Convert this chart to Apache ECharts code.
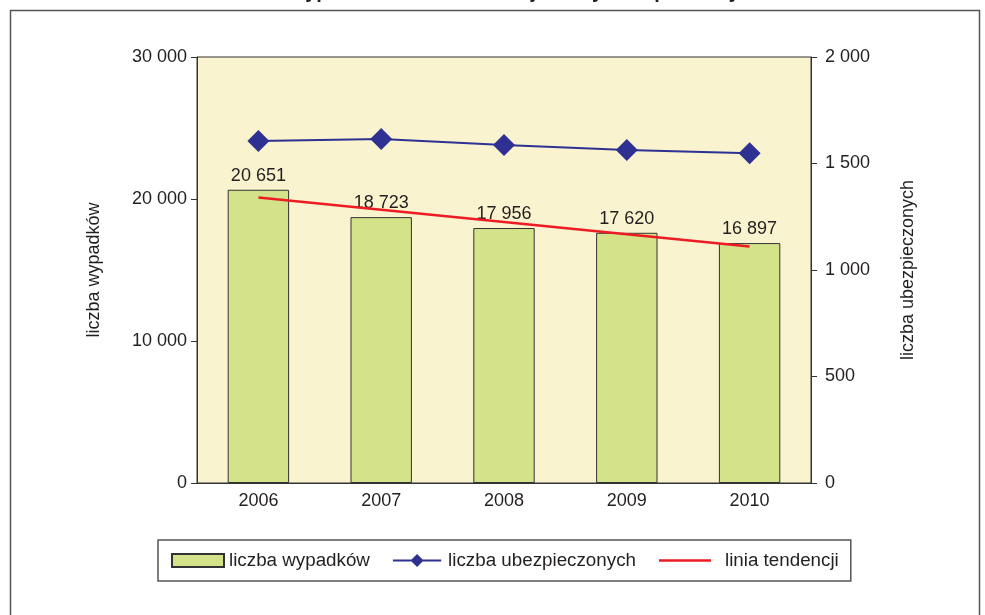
<!DOCTYPE html>
<html>
<head>
<meta charset="utf-8">
<script src="https://cdn.jsdelivr.net/npm/echarts@6/dist/echarts.min.js"></script>
<style>
  html, body { margin: 0; padding: 0; background: #fff; }
  #chart { width: 985px; height: 615px; }
</style>
</head>
<body>
<div id="chart"></div>
<script>
// dane
const years = ['2006', '2007', '2008', '2009', '2010'];
const accidents = [20651, 18723, 17956, 17620, 16897];
const insured = [1606, 1615, 1587, 1563, 1548];
// linia tendencji: tylko punkty początkowy i końcowy
const trend = [20100, null, null, null, 16660];
const leftTicks = [0, 10000, 20000, 30000];
const rightTicks = [0, 500, 1000, 1500, 2000];

const font = '"Liberation Sans", Arial, sans-serif';
const textColor = '#231f20';

// separator tysięcy jako spacja
function fmt(v) {
  return String(v).replace(/\B(?=(\d{3})+(?!\d))/g, ' ');
}

// ikony legendy: linia z rombem i sama linia
const diamondIcon = 'path://M0,5.5 L20,5.5 L26,-0.5 L32,5.5 L52,5.5 L52,7.5 L32,7.5 L26,13.5 L20,7.5 L0,7.5 Z';
const lineIcon = 'path://M0,0 L52,0 L52,2.5 L0,2.5 Z';

const myChart = echarts.init(document.getElementById('chart'));

myChart.setOption({
  animation: false,
  textStyle: { fontFamily: font, color: textColor },
  title: {
    text: 'Liczba wypadków na tle tendencji liczby ubezpieczonych',
    left: 'center',
    top: -23,
    textStyle: { fontFamily: font, fontSize: 20, fontWeight: 'bold', color: textColor }
  },
  graphic: [
    {
      type: 'rect',
      shape: { x: 10.5, y: 10.5, width: 969, height: 700 },
      style: { fill: 'none', stroke: '#555', lineWidth: 1.5 },
      silent: true
    }
  ],
  grid: {
    left: 197,
    right: 174,
    top: 57,
    bottom: 132,
    show: true,
    backgroundColor: '#f9f3cf',
    borderColor: '#333',
    borderWidth: 1
  },
  legend: {
    left: 158,
    top: 540,
    padding: [11, 12, 11, 13],
    itemGap: 23,
    itemWidth: 52,
    itemHeight: 13,
    borderColor: '#555',
    borderWidth: 1.5,
    textStyle: { fontFamily: font, fontSize: 18.8, color: textColor },
    data: [
      { name: 'liczba wypadków', icon: 'rect' },
      { name: 'liczba ubezpieczonych', icon: diamondIcon },
      { name: 'linia tendencji', icon: lineIcon, textStyle: { padding: [0, 0, 0, 9] } }
    ]
  },
  xAxis: {
    type: 'category',
    data: years,
    axisLine: { lineStyle: { color: '#333', width: 1 } },
    axisTick: { length: 6, lineStyle: { color: '#333' } },
    axisLabel: { fontSize: 18, color: textColor, margin: 9 }
  },
  yAxis: [
    {
      type: 'value',
      name: 'liczba wypadków',
      nameLocation: 'middle',
      nameRotate: 90,
      nameGap: 94,
      nameTextStyle: { fontSize: 18, color: textColor },
      position: 'left',
      min: leftTicks[0],
      max: leftTicks[leftTicks.length - 1],
      interval: 10000,
      splitLine: { show: false },
      axisLine: { show: true, lineStyle: { color: '#333' } },
      axisTick: { show: true, length: 6, lineStyle: { color: '#333' } },
      axisLabel: { fontSize: 18, color: textColor, margin: 10, formatter: fmt }
    },
    {
      type: 'value',
      name: 'liczba ubezpieczonych',
      nameLocation: 'middle',
      nameRotate: 90,
      nameGap: 88,
      nameTextStyle: { fontSize: 18, color: textColor },
      position: 'right',
      min: rightTicks[0],
      max: rightTicks[rightTicks.length - 1],
      interval: 500,
      splitLine: { show: false },
      axisLine: { show: true, lineStyle: { color: '#333' } },
      axisTick: { show: true, length: 6, lineStyle: { color: '#333' } },
      axisLabel: { fontSize: 18, color: textColor, margin: 14, formatter: fmt }
    }
  ],
  series: [
    {
      name: 'liczba wypadków',
      type: 'bar',
      yAxisIndex: 0,
      barWidth: '50%',
      data: accidents,
      itemStyle: { color: '#d4e28a', borderColor: '#333', borderWidth: 1 },
      label: {
        show: true,
        position: 'top',
        distance: 5,
        fontSize: 18,
        color: textColor,
        formatter: p => fmt(p.value)
      }
    },
    {
      name: 'liczba ubezpieczonych',
      type: 'line',
      yAxisIndex: 1,
      data: insured,
      symbol: 'diamond',
      symbolSize: 22,
      lineStyle: { color: '#2e3192', width: 2 },
      itemStyle: { color: '#2e3192' }
    },
    {
      name: 'linia tendencji',
      type: 'line',
      yAxisIndex: 0,
      data: trend,
      connectNulls: true,
      symbol: 'none',
      lineStyle: { color: '#ed1c24', width: 2.5 },
      itemStyle: { color: '#ed1c24' },
      z: 3
    }
  ]
});
</script>
</body>
</html>
